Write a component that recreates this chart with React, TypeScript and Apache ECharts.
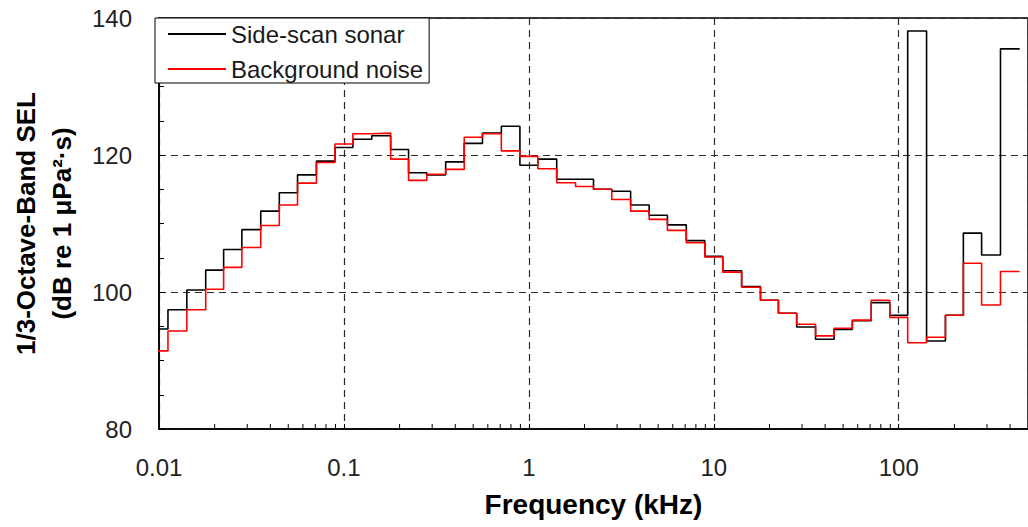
import React, { useEffect, useRef } from "react";
import * as echarts from "echarts";

// 1/3-octave band centre frequencies (kHz)
const bandCentersKHz = [
  0.01, 0.0125, 0.016, 0.02, 0.025, 0.0315, 0.04, 0.05, 0.063, 0.08,
  0.1, 0.125, 0.16, 0.2, 0.25, 0.315, 0.4, 0.5, 0.63, 0.8,
  1, 1.25, 1.6, 2, 2.5, 3.15, 4, 5, 6.3, 8,
  10, 12.5, 16, 20, 25, 31.5, 40, 50, 63, 80,
  100, 125, 160, 200, 250, 315, 400,
];

// Band SEL (dB re 1 µPa²·s)
const sideScanSonar = [
  94.6, 97.4, 100.3, 103.2, 106.2, 109.1, 111.8, 114.5, 117.1, 119.1,
  121.1, 122.3, 122.8, 120.8, 117.4, 117.1, 119.0, 121.7, 123.2, 124.2,
  118.5, 119.4, 116.45, 116.45, 115.0, 114.7, 112.7, 111.2, 109.8, 107.5,
  105.2, 103.1, 100.8, 98.8, 96.9, 94.9, 93.1, 94.55, 95.8, 98.45,
  96.6, 138.1, 92.85, 96.6, 108.6, 105.4, 135.5,
];
const backgroundNoise = [
  91.4, 94.3, 97.4, 100.4, 103.6, 106.5, 109.7, 112.7, 115.9, 118.9,
  121.6, 123.1, 123.2, 119.4, 116.3, 117.2, 117.9, 122.6, 123.1, 120.6,
  119.8, 118.0, 115.95, 115.4, 115.0, 113.5, 111.8, 110.6, 109.0, 107.2,
  105.1, 102.9, 100.7, 98.8, 96.9, 95.3, 93.6, 94.7, 95.9, 98.8,
  96.3, 92.6, 93.4, 96.6, 104.2, 98.1, 103.0,
];

const seriesNames = ["Side-scan sonar", "Background noise"];
const seriesColors = ["#000000", "#ff0000"];
const xDecades = [0.01, 0.1, 1, 10, 100];
const xMin = 0.01;
const xMax = 500;
const yMin = 80;
const yMax = 140;
const yLabelStep = 20;

const FONT = "'Liberation Sans', Arial, sans-serif";

function bandEdges(centers: number[]): number[] {
  const edges: number[] = [];
  const n = centers.length;
  edges.push(centers[0] / Math.sqrt(centers[1] / centers[0]));
  for (let i = 0; i < n - 1; i++) edges.push(Math.sqrt(centers[i] * centers[i + 1]));
  edges.push(centers[n - 1] * Math.sqrt(centers[n - 1] / centers[n - 2]));
  return edges;
}

function stepPoints(values: number[]): number[][] {
  const edges = bandEdges(bandCentersKHz);
  const pts: number[][] = [];
  values.forEach((v, i) => {
    pts.push([edges[i], v]);
    pts.push([edges[i + 1], v]);
  });
  return pts;
}

function minorTicks(): number[][] {
  const out: number[][] = [];
  xDecades.forEach((d) => {
    for (let m = 2; m <= 9; m++) {
      const v = d * m;
      if (v < xMax) out.push([v, yMin]);
    }
  });
  return out;
}

const gridLine = { color: "#2a2a2a", width: 1.2, type: [7, 5] };

export default function App() {
  const ref = useRef<HTMLDivElement>(null);
  useEffect(() => {
    if (!ref.current) return;
    const chart = echarts.init(ref.current, undefined, { renderer: "svg" });
    const option: any = {
      animation: false,
      backgroundColor: "#ffffff",
      textStyle: { fontFamily: FONT },
      grid: {
        left: 155,
        top: 18,
        width: 875,
        height: 411,
        show: true,
        borderColor: "#000",
        borderWidth: 1.5,
        backgroundColor: "transparent",
      },
      legend: {
        data: seriesNames.map((n) => ({ name: n, icon: "rect" })),
        orient: "vertical",
        left: 155,
        top: 18,
        itemWidth: 58,
        itemHeight: 2,
        itemGap: 11,
        padding: [4, 6, 2, 13],
        borderColor: "#000",
        borderWidth: 1,
        backgroundColor: "#fff",
        textStyle: { fontSize: 24, color: "#1a1a1a", fontFamily: FONT, lineHeight: 24 },
      },
      xAxis: {
        type: "log",
        logBase: 10,
        min: xMin,
        max: xMax,
        name: "Frequency (kHz)",
        nameLocation: "middle",
        nameGap: 61,
        nameTextStyle: { fontSize: 28, fontWeight: "bold", color: "#000", fontFamily: FONT },
        axisLine: { show: true, lineStyle: { color: "#000", width: 1.5 } },
        axisTick: { show: true, inside: true, length: 5, lineStyle: { color: "#000" } },
        axisLabel: {
          fontSize: 24,
          color: "#222",
          margin: 26,
          showMaxLabel: false,
          formatter: (v: number) => {
            const l = Math.log10(v);
            return Math.abs(l - Math.round(l)) < 1e-6 ? String(+v.toPrecision(6)) : "";
          },
        },
        splitLine: { show: true, lineStyle: gridLine },
      },
      yAxis: {
        type: "value",
        min: yMin,
        max: yMax,
        interval: yLabelStep,
        name: "1/3-Octave-Band SEL\n(dB re 1 μPa²·s)",
        nameLocation: "middle",
        nameRotate: 90,
        nameGap: 79,
        nameTextStyle: { fontSize: 26, fontWeight: "bold", color: "#000", lineHeight: 36, fontFamily: FONT },
        axisLine: { show: true, lineStyle: { color: "#000", width: 1.5 } },
        axisTick: { show: true, inside: true, length: 6, lineStyle: { color: "#000" } },
        minorTick: { show: true, splitNumber: 4, length: 5, lineStyle: { color: "#000" } },
        axisLabel: { fontSize: 24, color: "#222", margin: 27 },
        splitLine: { show: true, lineStyle: gridLine },
      },
      series: [
        {
          name: seriesNames[0],
          type: "line",
          data: stepPoints(sideScanSonar),
          symbol: "none",
          clip: true,
          lineStyle: { color: seriesColors[0], width: 1.6 },
          itemStyle: { color: seriesColors[0] },
          z: 3,
        },
        {
          name: seriesNames[1],
          type: "line",
          data: stepPoints(backgroundNoise),
          symbol: "none",
          clip: true,
          lineStyle: { color: seriesColors[1], width: 1.6 },
          itemStyle: { color: seriesColors[1] },
          z: 4,
        },
        {
          name: "minor ticks",
          type: "custom",
          silent: true,
          data: minorTicks(),
          encode: { x: 0, y: 1 },
          renderItem: (_p: any, api: any) => {
            const pt = api.coord([api.value(0), api.value(1)]);
            return {
              type: "line",
              shape: { x1: pt[0], y1: pt[1], x2: pt[0], y2: pt[1] - 5 },
              style: { stroke: "#000", lineWidth: 1 },
            };
          },
          z: 5,
        },
      ],
    };
    chart.setOption(option);
    return () => chart.dispose();
  }, []);
  return (
    <div
      ref={ref}
      style={{ position: "absolute", left: 0, top: 0, width: 1028, height: 527, background: "#fff" }}
    />
  );
}
